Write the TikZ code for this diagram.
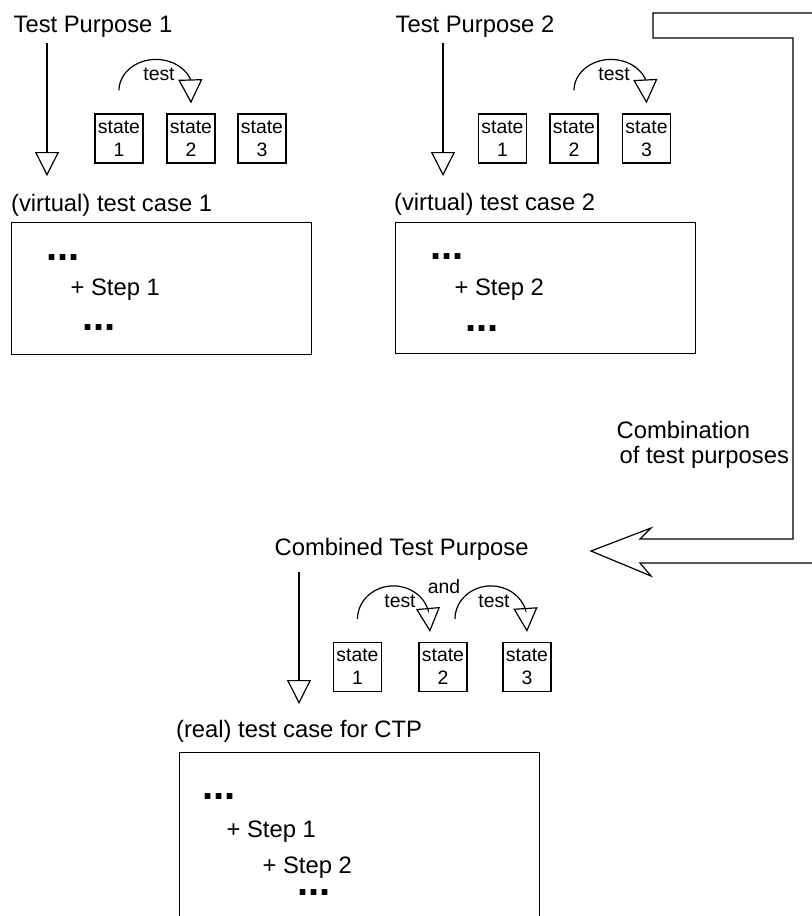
\documentclass[tikz,border=0pt]{standalone}
\usepackage{fontspec}
\setmainfont{Liberation Sans}
\usetikzlibrary{arrows.meta, calc}

\tikzset{
  lbl/.style={anchor=base west, inner sep=0pt, font=\fontsize{11.9}{12.5}\selectfont},
  dots/.style={anchor=base west, inner sep=0pt, text height=3pt, text depth=0pt,
               font=\fontsize{20}{20}\selectfont\bfseries},
  small/.style={anchor=base, inner sep=0pt, font=\fontsize{9.7}{11.5}\selectfont},
  statebox/.style={draw, line width=0.6pt, minimum width=24pt, minimum height=24.5pt,
                   inner sep=0pt, align=center, font=\fontsize{9.7}{11.5}\selectfont},
  casebox/.style={draw, line width=0.6pt, anchor=north west, inner sep=0pt},
  bigarrow/.style={line width=0.6pt, -{Triangle[open, length=12pt, width=12pt]}},
}

\begin{document}
\begin{tikzpicture}[x=0.5pt, y=0.5pt, line width=0.6pt]
\useasboundingbox (0,0) rectangle (812,-916);

% test purpose 1
\node[lbl] (tp1) at (13,-32) {Test Purpose 1};
\node[statebox] (s11) at (119,-138.5) {state\\1};
\node[statebox] (s12) at (191,-138.5) {state\\2};
\node[statebox] (s13) at (262,-138.5) {state\\3};
\draw[bigarrow] ($(s11.north)+(0,23)$) arc[start angle=180, end angle=22, x radius=37, y radius=31]
      -- ($(s12.north)+(0,10)$);
\node[small] (t1) at (159,-80) {test};

\node[lbl] (vc1) at (10.5,-211) {(virtual) test case 1};
\draw[bigarrow] ($(tp1.base west)+(34,-11)$) -- ($(vc1.base west)+(36.5,35)$);
\node[casebox, minimum width=150pt, minimum height=66pt] (tc1) at (11,-222) {};
\node[dots] (d11) at (46,-260) {...};
\node[lbl] (st1) at (70,-295) {+ Step 1};
\node[dots] (d12) at (82,-330) {...};

% test purpose 2
\node[lbl] (tp2) at (395,-32) {Test Purpose 2};
\node[statebox] (s21) at (502.5,-138.5) {state\\1};
\node[statebox] (s22) at (574,-138.5) {state\\2};
\node[statebox] (s23) at (646.5,-138.5) {state\\3};
\draw[bigarrow] ($(s22.north)+(0,23)$) arc[start angle=180, end angle=22, x radius=37, y radius=31]
      -- ($(s23.north)+(0,10)$);
\node[small] (t2) at (614,-80) {test};

\node[lbl] (vc2) at (393.5,-210) {(virtual) test case 2};
\draw[bigarrow] ($(tp2.base west)+(48,-11)$) -- ($(vc2.base west)+(49.5,34)$);
\node[casebox, minimum width=150pt, minimum height=65.5pt] (tc2) at (395,-222) {};
\node[dots] (d21) at (430,-259) {...};
\node[lbl] (st2) at (454,-295) {+ Step 2};
\node[dots] (d22) at (465,-331) {...};

% block arrow for the combination
\draw (830,-13) -- (653,-13) -- (653,-38) -- (793,-38) -- (793,-539) -- (640,-539)
      -- (651,-528) -- (591,-551) -- (651,-576) -- (640,-563) -- (830,-563);
\node[lbl, align=left] (cmb) at (616,-463) {Combination\\\hspace*{1.5pt}of test purposes};

% combined test purpose
\node[lbl] (ctp) at (274,-555) {Combined Test Purpose};
\node[statebox] (c1) at (357.5,-667) {state\\1};
\node[statebox] (c2) at (443,-667) {state\\2};
\node[statebox] (c3) at (527,-667) {state\\3};
\draw[bigarrow] ($(c1.north)+(0,23)$) arc[start angle=180, end angle=16, x radius=36, y radius=33]
      -- ($(c2.north)+(-13,10)$);
\draw[bigarrow] ($(c2.north)+(12,23)$) arc[start angle=180, end angle=16, x radius=36, y radius=33]
      -- ($(c3.north)+(0,10)$);
\node[small] (t31) at (400,-607) {test};
\node[small] (and) at (444,-593) {and};
\node[small] (t32) at (494,-607) {test};

\node[lbl] (rc) at (175.5,-737) {(real) test case for CTP};
\draw[bigarrow] ($(ctp.base west)+(25,-17)$) -- ($(rc.base west)+(123.5,33)$);
\node[casebox, minimum width=180pt, minimum height=110pt] (tc3) at (179,-752) {};
\node[dots] (d31) at (202,-799) {...};
\node[lbl] (st31) at (226,-837) {+ Step 1};
\node[lbl] (st32) at (262,-873) {+ Step 2};
\node[dots] (d32) at (297,-895) {...};

\end{tikzpicture}
\end{document}
